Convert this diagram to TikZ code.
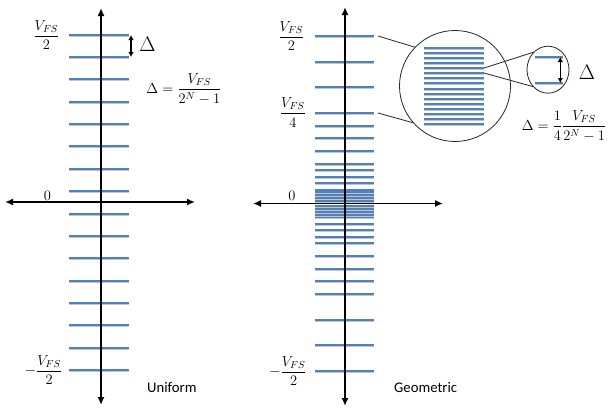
\RequirePackage{fix-cm}
\documentclass[tikz,border=0pt]{standalone}
\usepackage{amsmath}
\usepackage{fontspec}
\newfontfamily\captionfont{Carlito}
\usepackage{xcolor}
\usepackage{tikz}
\usetikzlibrary{arrows.meta,shapes.geometric}
\definecolor{Ink}{HTML}{000000}
\definecolor{LevelBlue}{HTML}{4F81BD}
\definecolor{LevelShade}{HTML}{C4C4C4}
\definecolor{ZoomGray}{HTML}{262626}
\tikzset{
  axisline/.style={line width=1.6pt,Ink,{Latex[length=8pt,width=7pt]}-{Latex[length=8pt,width=7pt]}},
  qline/.style={line width=2pt,LevelBlue},
  qshade/.style={line width=1pt,LevelShade},
  stepdim/.style={line width=1.3pt,Ink,{Latex[length=5pt,width=5.5pt]}-{Latex[length=5pt,width=5.5pt]}},
  zoomcircle/.style={circle,draw=ZoomGray,line width=0.8pt,inner sep=0pt},
  zoomellipse/.style={ellipse,draw=ZoomGray,line width=0.8pt,inner sep=0pt},
  zoomline/.style={line width=0.8pt,ZoomGray},
  mathlabel/.style={font=\fontsize{14.5}{17}\selectfont,inner sep=1pt},
  deltalabel/.style={font=\fontsize{21}{24}\selectfont,inner sep=0pt},
  caption/.style={anchor=west,font=\captionfont\fontsize{14.7}{17}\selectfont,inner sep=0pt}
}
\begin{document}
\begin{tikzpicture}[x=1pt,y=-1pt]
  \useasboundingbox (0,0) rectangle (610,410);

  \coordinate (UTop) at (101,8);
  \coordinate (UBottom) at (101,405);
  \coordinate (ULeft) at (5,202);
  \coordinate (URight) at (195,202);
  \foreach \i in {0,...,15}{
    \pgfmathsetmacro\ty{round(34.7+22.35*\i)}
    \draw[qshade] (69,\ty+1.5) -- (129,\ty+1.5);
    \draw[qline] (69,\ty) -- (129,\ty);
  }
  \draw[axisline] (UBottom) -- (UTop);
  \draw[axisline] (ULeft) -- (URight);
  \coordinate (UStepTop) at (131,35);
  \coordinate (UStepBottom) at (131,57);
  \draw[stepdim] (UStepTop) -- (UStepBottom);
  \node[deltalabel] (UDelta) at (147.5,44.5) {$\Delta$};
  \node[mathlabel] (UFormula) at (184,89) {$\Delta=\dfrac{V_{FS}}{2^N-1}$};
  \node[mathlabel] (UHalf) at (46.5,35) {$\dfrac{V_{FS}}{2}$};
  \node[mathlabel] (UZero) at (47.5,196) {$0$};
  \node[mathlabel] (UNegHalf) at (43.5,370) {$-\dfrac{V_{FS}}{2}$};
  \node[caption] (UName) at (147,387) {Uniform};

  \coordinate (GTop) at (345,7);
  \coordinate (GBottom) at (345,406);
  \coordinate (GLeft) at (253,203.5);
  \coordinate (GRight) at (443,203.5);
  \foreach \d in {167,141.4,115.8,90.2,77.4,64.6,51.8,39,32.6,26.2,19.8,13.4,10.6,7.8,5,2.2}{
    \pgfmathsetmacro\tup{round(203-\d)}
    \pgfmathsetmacro\tdown{round(204+\d)}
    \draw[qshade] (315,\tup+1.5) -- (374,\tup+1.5);
    \draw[qline] (315,\tup) -- (374,\tup);
    \draw[qshade] (315,\tdown+1.5) -- (374,\tdown+1.5);
    \draw[qline] (315,\tdown) -- (374,\tdown);
  }
  \draw[axisline] (GBottom) -- (GTop);
  \draw[axisline] (GLeft) -- (GRight);
  \node[mathlabel] (GHalf) at (291.5,36) {$\dfrac{V_{FS}}{2}$};
  \node[mathlabel] (GQuarter) at (293,112.5) {$\dfrac{V_{FS}}{4}$};
  \node[mathlabel] (GZero) at (292,196) {$0$};
  \node[mathlabel] (GNegHalf) at (288,371) {$-\dfrac{V_{FS}}{2}$};
  \node[caption] (GName) at (394,387) {Geometric};

  \node[zoomcircle,minimum size=111pt] (bigzoom) at (455,86) {};
  \foreach \i in {0,...,15}{
    \pgfmathsetmacro\zy{round(47.7+5.1*\i)}
    \draw[qshade] (424.3,\zy+1.5) -- (484,\zy+1.5);
    \draw[qline] (424.3,\zy) -- (484,\zy);
  }
  \coordinate (GHalfEnd) at (378,36);
  \coordinate (GQuarterEnd) at (378,113);
  \draw[zoomline] (GHalfEnd) -- (bigzoom.136);
  \draw[zoomline] (GQuarterEnd) -- (bigzoom.221);

  \node[zoomellipse,minimum width=42pt,minimum height=47pt] (smallzoom) at (548,69.7) {};
  \coordinate (ZoomA) at (484,68);
  \coordinate (ZoomB) at (484,73);
  \draw[zoomline] (ZoomA) -- (smallzoom.130);
  \draw[zoomline] (ZoomB) -- (smallzoom.228);
  \draw[qshade] (535,58.5) -- (562.7,58.5);
  \draw[qline] (535,57) -- (562.7,57);
  \draw[qshade] (535,84.5) -- (562.7,84.5);
  \draw[qline] (535,83) -- (562.7,83);
  \coordinate (GStepTop) at (560.3,57);
  \coordinate (GStepBottom) at (560.3,83);
  \draw[stepdim] (GStepTop) -- (GStepBottom);
  \node[deltalabel] (GDelta) at (587,72.5) {$\Delta$};
  \node[mathlabel] (GFormula) at (564,126) {$\Delta=\dfrac{1}{4}\dfrac{V_{FS}}{2^N-1}$};
\end{tikzpicture}
\end{document}
